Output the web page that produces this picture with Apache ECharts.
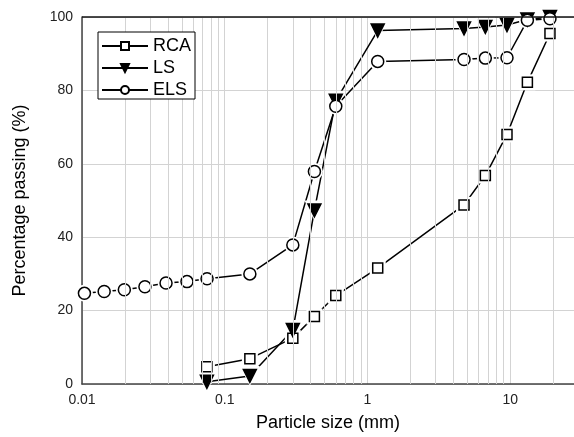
<!DOCTYPE html>
<html>
<head>
<meta charset="utf-8">
<script src="https://cdn.jsdelivr.net/npm/echarts@6/dist/echarts.min.js"></script>
<style>
html,body{margin:0;padding:0;background:#fff;}
#chart{width:574px;height:437px;}
</style>
</head>
<body>
<div id="chart"></div>
<script>
// ---- data ----
const sieveSizes = [0.075, 0.15, 0.3, 0.425, 0.6, 1.18, 4.75, 6.7, 9.5, 13.2, 19];
const rcaPassing = [4.7, 6.9, 12.5, 18.4, 24.1, 31.6, 48.8, 56.8, 68.0, 82.2, 95.5];
const lsPassing  = [0.6, 2.2, 14.7, 47.3, 77.2, 96.3, 96.9, 97.3, 97.8, 99.3, 100];
const elsSizes   = [0.0104, 0.0143, 0.0198, 0.0276, 0.0388, 0.0544, 0.0752, 0.15, 0.3, 0.425, 0.6, 1.18, 4.75, 6.7, 9.5, 13.2, 19];
const elsPassing = [24.7, 25.2, 25.7, 26.5, 27.5, 27.9, 28.7, 30.0, 37.9, 57.9, 75.7, 87.9, 88.4, 88.8, 88.9, 99.1, 99.5];
const seriesNames = ['RCA', 'LS', 'ELS'];
const xTickLabels = ['0.01', '0.1', '1', '10'];
const minorGridValues = [0.02,0.03,0.04,0.05,0.06,0.07,0.08,0.09,0.2,0.3,0.4,0.5,0.6,0.7,0.8,0.9,2,3,4,5,6,7,8,9,20];

function pairs(xs, ys){ return xs.map((x,i)=>[x, ys[i]]); }

const FONT = 'Liberation Sans, Arial, sans-serif';
const specs = [
  {name: seriesNames[0], data: pairs(sieveSizes, rcaPassing), symbol: 'rect', size: 10, halo: 16, rot: 0, fill: '#fff'},
  {name: seriesNames[1], data: pairs(sieveSizes, lsPassing), symbol: 'triangle', size: 13, halo: 20, rot: 180, fill: '#000'},
  {name: seriesNames[2], data: pairs(elsSizes, elsPassing), symbol: 'circle', size: 12, halo: 17, rot: 0, fill: '#fff'}
];

const series = [];
series.push({
  type: 'line', name: 'grid', data: [], z: 1, silent: true,
  markLine: {
    silent: true, symbol: ['none','none'], label: {show:false}, animation:false,
    lineStyle: {color:'#d3d3d3', width:1, type:'solid'},
    data: minorGridValues.map(v => ({xAxis: v}))
      .concat([{yAxis: 100, lineStyle:{color:'#111', width:1.5, type:'solid'}}])
  }
});
specs.forEach(s => {
  series.push({
    type: 'line', name: s.name, data: s.data, z: 2,
    symbol: s.symbol, symbolSize: s.size, symbolRotate: s.rot, showSymbol: true,
    lineStyle: {color:'#000', width:1.5},
    itemStyle: {color: s.fill, borderColor:'#000', borderWidth:1.5},
    animation: false, clip: false
  });
  series.push({
    type: 'line', name: s.name + '_halo', data: s.data, z: 3,
    symbol: s.symbol, symbolSize: s.halo, symbolRotate: s.rot,
    lineStyle: {width:0, opacity:0},
    itemStyle: {color:'#fff', borderWidth:0},
    animation: false, clip: false, silent: true
  });
  series.push({
    type: 'line', name: s.name + '_mark', data: s.data, z: 4,
    symbol: s.symbol, symbolSize: s.size, symbolRotate: s.rot,
    lineStyle: {width:0, opacity:0},
    itemStyle: {color: s.fill, borderColor:'#000', borderWidth:1.5},
    animation: false, clip: false, silent: true
  });
});

const chart = echarts.init(document.getElementById('chart'), null, {renderer:'canvas'});
chart.setOption({
  animation: false,
  backgroundColor: '#fff',
  textStyle: {fontFamily: FONT},
  grid: {left: 82, right: 0, top: 17, bottom: 53, containLabel: false, outerBoundsMode: 'none'},
  legend: {
    z: 10,
    data: seriesNames,
    orient: 'vertical', left: 98, top: 32,
    padding: [5, 4, 0, 3], itemGap: 4, itemWidth: 46, itemHeight: 10,
    borderColor: '#000', borderWidth: 1, backgroundColor: '#fff',
    textStyle: {fontSize: 18, color: '#000', fontFamily: FONT},
    selectedMode: false
  },
  xAxis: {
    type: 'log', logBase: 10, min: 0.01, max: 28,
    name: 'Particle size (mm)', nameLocation: 'middle', nameGap: 30,
    nameTextStyle: {fontSize: 18, color: '#000', fontFamily: FONT},
    axisLine: {show: true, lineStyle: {color: '#444', width: 1.5}},
    axisTick: {show: false},
    axisLabel: {
      fontSize: 14, color: '#222', margin: 9, fontFamily: FONT, showMaxLabel: false,
      formatter: v => {
        const i = Math.round(Math.log10(v) + 2);
        return (Math.abs(Math.log10(v) + 2 - i) < 1e-6 && xTickLabels[i] !== undefined) ? xTickLabels[i] : '';
      }
    },
    splitLine: {show: true, lineStyle: {color: '#d3d3d3', width: 1}},
    minorTick: {show: false}
  },
  yAxis: {
    type: 'value', min: 0, max: 100, interval: 20,
    name: 'Percentage passing (%)', nameLocation: 'middle', nameGap: 53, nameRotate: 90,
    nameTextStyle: {fontSize: 18, color: '#000', fontFamily: FONT},
    axisLine: {show: true, lineStyle: {color: '#444', width: 1.5}},
    axisTick: {show: false},
    axisLabel: {fontSize: 14, color: '#222', margin: 9, fontFamily: FONT},
    splitLine: {show: true, lineStyle: {color: '#d3d3d3', width: 1}}
  },
  series: series
});
</script>
</body>
</html>
